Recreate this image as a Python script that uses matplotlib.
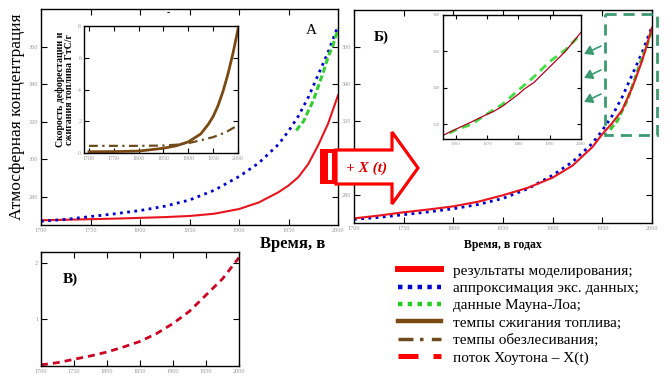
import matplotlib
matplotlib.use("Agg")
import matplotlib.pyplot as plt
import matplotlib.patches as patches
from matplotlib.lines import Line2D

plt.rcParams['font.family'] = ['Liberation Serif', 'DejaVu Serif']

# ---- data ----
years = [1700, 1725, 1750, 1775, 1800, 1825, 1850, 1875, 1900, 1920, 1940,
         1950, 1960, 1970, 1980, 1990, 2000]
model_no_x = [267.5, 267.8, 268.1, 268.4, 268.8, 269.2, 269.8, 271.0, 273.5,
              277.0, 282.5, 286.0, 290.5, 297.5, 307.5, 319.0, 334.0]
model_with_x = [267.5, 269.0, 270.8, 272.3, 274.0, 276.5, 280.0, 284.0, 289.5,
                296.0, 306.0, 313.0, 319.0, 326.0, 338.0, 352.5, 370.5]
approx_exp = [267.0, 268.0, 269.5, 271.0, 272.7, 275.0, 278.3, 283.5, 290.8,
              298.0, 308.0, 315.0, 323.0, 333.0, 345.0, 357.0, 371.0]

ml_years = [1958, 1960, 1965, 1970, 1975, 1980, 1985, 1990, 1995, 2000]
mauna_loa = [315.3, 316.9, 320.0, 325.7, 331.1, 338.7, 346.1, 354.4, 360.9, 369.5]

zoom_years = [1956, 1960, 1965, 1970, 1972, 1975, 1980, 1982, 1985, 1990, 1995, 2000]
zoom_model = [314.0, 317.3, 321.3, 325.5, 327.0, 330.0, 336.5, 339.5, 343.0,
              351.5, 360.0, 370.5]

fuel_years = [1700, 1750, 1800, 1850, 1875, 1900, 1925, 1940, 1950, 1960,
              1970, 1980, 1990, 2000]
fuel_rate = [0.08, 0.09, 0.12, 0.3, 0.45, 0.7, 1.2, 1.8, 2.3, 3.0, 3.9, 5.0, 6.3, 7.8]
def_years = [1700, 1750, 1800, 1850, 1875, 1900, 1925, 1950, 1975, 2000]
deforest_rate = [0.45, 0.45, 0.45, 0.47, 0.52, 0.62, 0.8, 1.0, 1.3, 1.75]

x_years = [1700, 1725, 1750, 1775, 1800, 1825, 1850, 1875, 1900, 1925, 1950, 1975, 2000]
houghton_x = [0.18, 0.22, 0.28, 0.34, 0.41, 0.5, 0.6, 0.74, 0.92, 1.14, 1.43, 1.72, 2.1]

legend_labels = ["результаты моделирования;", "аппроксимация экс. данных;",
                 "данные Мауна-Лоа;", "темпы сжигания топлива;",
                 "темпы обезлесивания;", "поток Хоутона – X(t)"]

RED = '#e8141e'
BLUE = '#0000cc'
GREEN = '#33cc33'
BROWN = '#7a4a14'
BROWN2 = '#6e4b1e'
BOXGREEN = '#3d9970'
TICKGRAY = '#9a9a9a'

W, H = 672, 386
fig = plt.figure(figsize=(6.72, 3.86), dpi=100)


def px_axes(left, top, right, bottom):
    return fig.add_axes([left / W, 1 - bottom / H, (right - left) / W, (bottom - top) / H])


def style(ax, size=4.5, ticklen=4):
    ax.tick_params(direction='in', top=True, right=True, length=ticklen, width=0.8,
                   labelsize=size, labelcolor=TICKGRAY, pad=2)
    for s in ax.spines.values():
        s.set_linewidth(1.0)


# ---- panel A ----
axA = px_axes(41, 9, 338, 225)
axA.plot(years, model_no_x, color=RED, lw=1.5)
axA.plot(years, approx_exp, color=BLUE, lw=2, linestyle=(0, (1, 1.6)))
axA.plot(ml_years, mauna_loa, color=GREEN, lw=2.2, linestyle=(0, (2, 1)))
axA.set_xlim(1700, 2000)
axA.set_ylim(265, 380)
axA.set_xticks(range(1700, 2001, 50))
axA.set_yticks(range(280, 361, 20))
style(axA)
axA.set_ylabel("Атмосферная концентрация", fontsize=12.5, labelpad=3)
axA.text(0.91, 0.9, "А", transform=axA.transAxes, fontsize=11, ha='center', va='center')
axA.text(0.43, 0.985, "-", transform=axA.transAxes, fontsize=7, fontweight='bold',
         ha='center', va='center')

# inset in A
axAi = px_axes(84, 26, 238, 153)
axAi.plot(fuel_years, fuel_rate, color=BROWN, lw=2)
axAi.plot(def_years, deforest_rate, color=BROWN2, lw=1.6, linestyle=(0, (4, 2, 1, 2)))
axAi.set_xlim(1690, 2000)
axAi.set_ylim(0, 8)
axAi.set_xticks(range(1700, 2001, 50))
axAi.set_yticks(range(0, 9, 2))
style(axAi, size=4.2, ticklen=3.5)
axAi.set_ylabel("Скорость дефорестации и\nсжигания топлива ГтС/г", fontsize=7,
                fontweight='bold', labelpad=3, linespacing=0.95)

# ---- panel Б ----
axB = px_axes(354, 10, 652, 223)
axB.plot(years, approx_exp, color=BLUE, lw=2, linestyle=(0, (1, 1.6)))
axB.plot(ml_years, mauna_loa, color=GREEN, lw=2.2, linestyle=(0, (2, 1)))
axB.plot(years, model_with_x, color=RED, lw=1.5)
axB.set_xlim(1700, 2000)
axB.set_ylim(265, 380)
axB.set_xticks(range(1700, 2001, 50))
axB.set_yticks(range(280, 361, 20))
style(axB)
axB.set_xlabel("Время, в годах", fontsize=8.5, fontweight='bold', labelpad=6)
axB.text(0.09, 0.87, "Б)", transform=axB.transAxes, fontsize=11, fontweight='bold',
         ha='center', va='center')

# inset in Б
axBi = px_axes(443, 15, 581, 139)
axBi.plot(ml_years, mauna_loa, color='#44dd44', lw=2, linestyle=(0, (3, 2)))
axBi.plot(zoom_years, zoom_model, color='#b00020', lw=0.9)
axBi.set_xlim(1956, 2000)
axBi.set_ylim(312, 380)
axBi.set_xticks(range(1960, 2001, 10))
axBi.set_yticks(range(320, 381, 20))
style(axBi, size=3.5, ticklen=3)

# ---- panel В ----
axC = px_axes(41, 252, 239, 366)
axC.plot(x_years, houghton_x, color='#cc0022', lw=2, linestyle=(0, (2.5, 1.8)))
axC.set_xlim(1700, 2000)
axC.set_ylim(0.16, 2.2)
axC.set_xticks(range(1700, 2001, 50))
axC.set_yticks([1, 2])
style(axC)
axC.text(0.15, 0.76, "В)", transform=axC.transAxes, fontsize=11, fontweight='bold',
         ha='center', va='center')

# ---- overlay: arrows, box, free text ----
ov = fig.add_axes([0, 0, 1, 1], zorder=10)
ov.set_xlim(0, W)
ov.set_ylim(H, 0)
ov.axis('off')

arrow = patches.Polygon([(336, 150), (392, 150), (392, 132), (418, 168),
                         (392, 204), (392, 184), (336, 184)], closed=True,
                        facecolor='white', edgecolor='#ff0000', lw=2.3)
ov.add_patch(arrow)
ov.add_patch(patches.Rectangle((320, 149), 17, 35, facecolor='#ff0000', edgecolor='none'))
ov.add_patch(patches.Rectangle((328, 153), 3.5, 27, facecolor='white', edgecolor='none'))
ov.text(367, 168, "+ X (t)", color='#dd0000', fontsize=11, fontweight='bold',
        fontstyle='italic', ha='center', va='center')

ov.add_patch(patches.Rectangle((605, 14), 52, 121, facecolor='none', edgecolor=BOXGREEN,
                               lw=2, linestyle=(0, (4, 2.5))))
for ay in (50, 74, 98):
    ov.annotate("", xy=(584, ay + 4), xytext=(601, ay - 4),
                arrowprops=dict(arrowstyle='-|>,head_length=0.5,head_width=0.3',
                                color=BOXGREEN, lw=1.2, shrinkA=0, shrinkB=0))

ov.text(260, 244, "Время, в", fontsize=12, fontweight='bold', ha='left', va='center')

# ---- legend ----
handles = [
    Line2D([], [], color='#ff0000', lw=4.3),
    Line2D([], [], color=BLUE, lw=3.2, linestyle=(0, (1, 1.2)), dash_capstyle='butt'),
    Line2D([], [], color='#22cc22', lw=3.2, linestyle=(0, (1, 1.2)), dash_capstyle='butt'),
    Line2D([], [], color=BROWN, lw=3.2),
    Line2D([], [], color=BROWN2, lw=2.5, linestyle=(0, (4.3, 1.9, 1, 2.4)),
           dash_capstyle='butt'),
    Line2D([], [], color='#ff0000', lw=3.6, linestyle=(0, (4, 3)), dash_capstyle='butt'),
]
fig.legend(handles, legend_labels, loc='upper left',
           bbox_to_anchor=(398 / W, 1 - 264 / H), frameon=False, fontsize=11,
           handlelength=2.8, handletextpad=0.8, labelspacing=0.24, borderpad=0,
           borderaxespad=0)

fig.savefig("out.png", dpi=100)
